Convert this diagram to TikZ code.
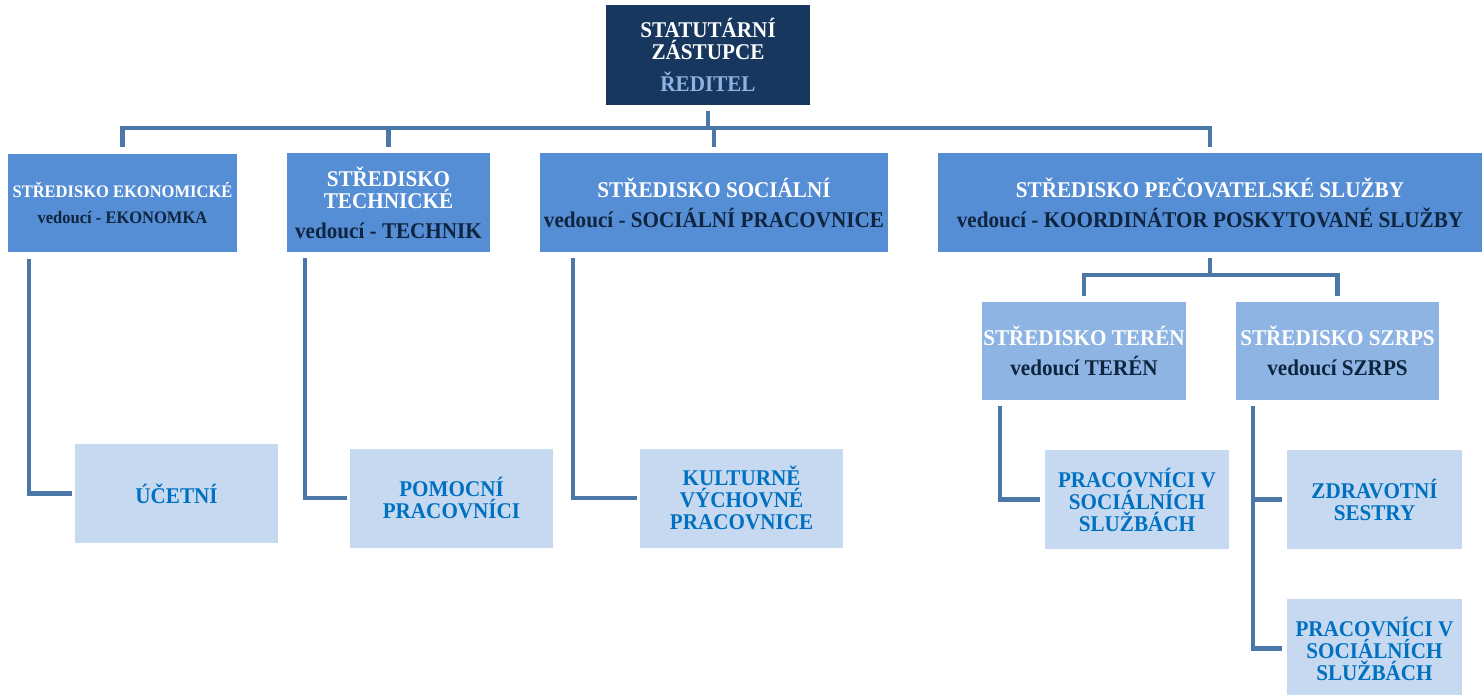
\documentclass[tikz,border=0pt]{standalone}
\usepackage{fontspec}
\setmainfont{Liberation Serif}[FakeStretch=0.94]
\usetikzlibrary{positioning}
\definecolor{dirfill}{HTML}{17375E}
\definecolor{deptfill}{HTML}{558ED5}
\definecolor{subfill}{HTML}{8EB4E3}
\definecolor{stafffill}{HTML}{C6D9F1}
\definecolor{linkcol}{HTML}{4A76A8}
\definecolor{navytext}{HTML}{0F243E}
\definecolor{stafftext}{HTML}{0070C0}
\definecolor{dirtext}{HTML}{8DB3E2}
\tikzstyle{unit}=[rectangle,inner sep=0pt,align=center,font=\fontsize{12.8}{12.5}\selectfont\bfseries]
\tikzstyle{head}=[unit,fill=dirfill,text=white,minimum width=4.08cm,minimum height=2cm]
\tikzstyle{dept}=[unit,fill=deptfill,text=white,minimum height=1.98cm]
\tikzstyle{subdept}=[unit,fill=subfill,text=white,minimum height=1.96cm]
\tikzstyle{staff}=[unit,fill=stafffill,text=stafftext,minimum height=1.98cm]
\tikzstyle{link}=[draw=linkcol,line width=2.8pt]
\newcommand{\lead}[1]{\\[4.5pt]\textcolor{navytext}{#1}}

\begin{document}
\begin{tikzpicture}[x=0.02cm,y=-0.02cm]
  \useasboundingbox (0,0) rectangle (1483,694);
  \node[head] (dir) at (708,55) {STATUTÁRNÍ\\ZÁSTUPCE\\[6pt]\textcolor{dirtext}{ŘEDITEL}};
  \node[dept, minimum width=4.58cm, font=\fontsize{10}{10.5}\selectfont\bfseries] (ekon) at (122.5,203) {STŘEDISKO EKONOMICKÉ\lead{vedoucí - EKONOMKA}};
  \node[dept, minimum width=4.06cm] (tech) at (388.5,202.5) {STŘEDISKO\\TECHNICKÉ\lead{vedoucí - TECHNIK}};
  \node[dept, minimum width=6.96cm] (soc) at (714,202.5) {STŘEDISKO SOCIÁLNÍ\lead{vedoucí - SOCIÁLNÍ PRACOVNICE}};
  \node[dept, minimum width=10.88cm] (pec) at (1210,202.5) {STŘEDISKO PEČOVATELSKÉ SLUŽBY\lead{vedoucí - KOORDINÁTOR POSKYTOVANÉ SLUŽBY}};
  \node[subdept, minimum width=4.08cm] (teren) at (1084,351) {STŘEDISKO TERÉN\lead{vedoucí TERÉN}};
  \node[subdept, minimum width=4.06cm] (szrps) at (1337.5,351) {STŘEDISKO SZRPS\lead{vedoucí SZRPS}};
  \node[staff, minimum width=4.06cm] (uce) at (176.5,493.5) {ÚČETNÍ};
  \node[staff, minimum width=4.06cm] (pom) at (451.5,498) {POMOCNÍ\\PRACOVNÍCI};
  \node[staff, minimum width=4.06cm] (kult) at (741.5,498) {KULTURNĚ\\VÝCHOVNÉ\\PRACOVNICE};
  \node[staff, minimum width=3.68cm] (pracA) at (1137,499.5) {PRACOVNÍCI V\\SOCIÁLNÍCH\\SLUŽBÁCH};
  \node[staff, minimum width=3.5cm] (zdrav) at (1374.5,499.5) {ZDRAVOTNÍ\\SESTRY};
  \node[staff, minimum width=3.5cm] (pracB) at (1374.5,648.5) {PRACOVNÍCI V\\SOCIÁLNÍCH\\SLUŽBÁCH};
  \coordinate (topbus) at (708,128);
  \coordinate (pecbus) at (1210,275);
  \draw[link, shorten <=0.12cm] (dir.south) -- (topbus);
  \draw[link, shorten <=0.12cm, shorten >=0.12cm] (ekon.north) |- (topbus) -| (pec.north);
  \foreach \d in {tech,soc}
    \draw[link, shorten >=0.12cm] (topbus -| \d.north) -- (\d.north);
  \draw[link, shorten <=0.12cm] (pec.south) -- (pecbus);
  \draw[link, shorten <=0.12cm, shorten >=0.12cm] (teren.north) |- (pecbus) -| (szrps.north);
  \draw[link, shorten <=0.12cm, shorten >=0.06cm] (ekon.south -| 29,0) |- (uce.west);
  \draw[link, shorten <=0.12cm, shorten >=0.06cm] (tech.south -| 305,0) |- (pom.west);
  \draw[link, shorten <=0.12cm, shorten >=0.06cm] (soc.south -| 573,0) |- (kult.west);
  \draw[link, shorten <=0.12cm, shorten >=0.1cm] (teren.south -| 1000,0) |- (pracA.west);
  \draw[link, shorten <=0.12cm, shorten >=0.1cm] (szrps.south -| 1253,0) |- (zdrav.west);
  \draw[link, shorten <=0.12cm, shorten >=0.1cm] (szrps.south -| 1253,0) |- (pracB.west);
\end{tikzpicture}
\end{document}
